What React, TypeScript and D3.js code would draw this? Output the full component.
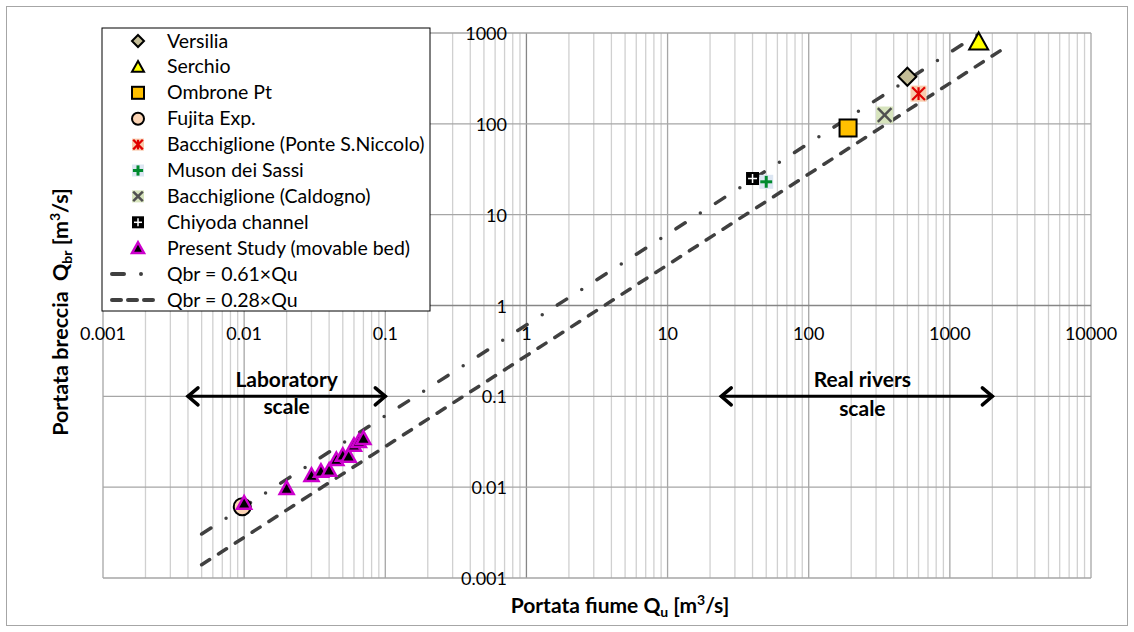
import * as d3 from "d3";

// axis ticks (log-log)
const X_TICKS = [0.001, 0.01, 0.1, 1, 10, 100, 1000, 10000];
const X_TICK_LABELS = ["0.001", "0.01", "0.1", "1", "10", "100", "1000", "10000"];
const Y_TICKS = [0.001, 0.01, 0.1, 1, 10, 100, 1000];
const Y_TICK_LABELS = ["0.001", "0.01", "0.1", "1", "10", "100", "1000"];

// observed breaches: [Qu, Qbr] in m3/s
const VERSILIA: [number, number][] = [[500, 330]];
const SERCHIO: [number, number][] = [[1600, 800]];
const OMBRONE: [number, number][] = [[190, 90]];
const FUJITA: [number, number][] = [[0.0097, 0.0061]];
const BACCH_PONTE: [number, number][] = [[600, 215]];
const MUSON: [number, number][] = [[50, 23]];
const BACCH_CALDOGNO: [number, number][] = [[345, 125]];
const CHIYODA: [number, number][] = [[40, 25]];

// present study, movable bed
const PRESENT_QU = [0.01, 0.02, 0.03, 0.035, 0.04, 0.045, 0.05, 0.055, 0.06, 0.065, 0.07];
const PRESENT_QBR = [0.0067, 0.0097, 0.0135, 0.015, 0.0154, 0.0202, 0.0225, 0.022, 0.029, 0.032, 0.0345];

// fitted lines (end points)
const FIT_QU = [0.005, 2500];
const FIT_HIGH_QBR = [0.00305, 1525];
const FIT_LOW_QBR = [0.0014, 700];

// scale annotations
const ARROW_QBR = 0.1;
const LAB_RANGE = [0.004, 0.1];
const LAB_TEXT_QU = 0.02;
const RIVER_RANGE = [24, 2000];
const RIVER_TEXT_QU = 240;

type Kind =
  | "diamond" | "triangle" | "square" | "circle" | "asterisk"
  | "plus" | "cross" | "chiyoda" | "present";

const SERIES: { name: string; kind: Kind; pts: [number, number][]; size: number }[] = [
  { name: "Versilia", kind: "diamond", pts: VERSILIA, size: 18 },
  { name: "Serchio", kind: "triangle", pts: SERCHIO, size: 19 },
  { name: "Ombrone Pt", kind: "square", pts: OMBRONE, size: 17 },
  { name: "Fujita Exp.", kind: "circle", pts: FUJITA, size: 17 },
  { name: "Bacchiglione (Ponte S.Niccolo)", kind: "asterisk", pts: BACCH_PONTE, size: 16 },
  { name: "Muson dei Sassi", kind: "plus", pts: MUSON, size: 14 },
  { name: "Bacchiglione (Caldogno)", kind: "cross", pts: BACCH_CALDOGNO, size: 17 },
  { name: "Chiyoda channel", kind: "chiyoda", pts: CHIYODA, size: 13 },
  {
    name: "Present Study (movable bed)",
    kind: "present",
    pts: PRESENT_QU.map((q, i) => [q, PRESENT_QBR[i]] as [number, number]),
    size: 14,
  },
];

const LINES = [
  { name: "Qbr = 0.61×Qu", qbr: FIT_HIGH_QBR, dash: "11 18 0 18", legendDash: "12 17 0 40" },
  { name: "Qbr = 0.28×Qu", qbr: FIT_LOW_QBR, dash: "9.5 10.5", legendDash: "9 7" },
];

const FONT = "Lato, 'Noto Sans', sans-serif";
const W = 1134;
const H = 632;

function Marker({ kind, cx, cy, s }: { kind: Kind; cx: number; cy: number; s: number }) {
  const h = s / 2;
  switch (kind) {
    case "diamond":
      return (
        <path
          d={`M${cx},${cy - h}L${cx + h},${cy}L${cx},${cy + h}L${cx - h},${cy}Z`}
          fill="#c4bd97" stroke="#000" strokeWidth={2}
        />
      );
    case "triangle":
    case "present": {
      const th = s * 0.9;
      return (
        <path
          d={`M${cx},${cy - th * 0.55}L${cx + h},${cy + th * 0.45}L${cx - h},${cy + th * 0.45}Z`}
          fill={kind === "triangle" ? "#ffff00" : "#000"}
          stroke={kind === "triangle" ? "#000" : "#cc00cc"}
          strokeWidth={kind === "triangle" ? 2 : 2.5}
        />
      );
    }
    case "square":
      return <rect x={cx - h} y={cy - h} width={s} height={s} fill="#ffc000" stroke="#000" strokeWidth={2} />;
    case "circle":
      return <circle cx={cx} cy={cy} r={h} fill="#fbd4b4" stroke="#000" strokeWidth={2} />;
    case "asterisk": {
      const a = h * 0.8;
      return (
        <g>
          <rect x={cx - h} y={cy - h} width={s} height={s} fill="#f8cbad" />
          <g stroke="#e00000" strokeWidth={2.2}>
            <line x1={cx} y1={cy - a} x2={cx} y2={cy + a} />
            <line x1={cx - a} y1={cy - a} x2={cx + a} y2={cy + a} />
            <line x1={cx - a} y1={cy + a} x2={cx + a} y2={cy - a} />
          </g>
        </g>
      );
    }
    case "plus": {
      const a = h * 0.85;
      return (
        <g>
          <rect x={cx - h} y={cy - h} width={s} height={s} fill="#dce6f2" />
          <g stroke="#008a2e" strokeWidth={3}>
            <line x1={cx} y1={cy - a} x2={cx} y2={cy + a} />
            <line x1={cx - a} y1={cy} x2={cx + a} y2={cy} />
          </g>
        </g>
      );
    }
    case "cross": {
      const a = h * 0.8;
      return (
        <g>
          <rect x={cx - h} y={cy - h} width={s} height={s} fill="#d7e4bd" />
          <g stroke="#505050" strokeWidth={2.5}>
            <line x1={cx - a} y1={cy - a} x2={cx + a} y2={cy + a} />
            <line x1={cx - a} y1={cy + a} x2={cx + a} y2={cy - a} />
          </g>
        </g>
      );
    }
    case "chiyoda":
      return (
        <g>
          <rect x={cx - h} y={cy - h} width={s} height={s} fill="#000" />
          <g stroke="#fff" strokeWidth={1.5}>
            <line x1={cx} y1={cy - h + 2} x2={cx} y2={cy + h - 2} />
            <line x1={cx - h + 2} y1={cy} x2={cx + h - 2} y2={cy} />
          </g>
        </g>
      );
  }
  return null;
}

function Arrow({ x1, x2, y }: { x1: number; x2: number; y: number }) {
  return (
    <g stroke="#000" fill="none" strokeLinecap="round">
      <line x1={x1} y1={y} x2={x2} y2={y} strokeWidth={3} />
      <path d={`M${x1 + 10},${y - 8.5}L${x1},${y}L${x1 + 10},${y + 8.5}`} strokeWidth={3.5} />
      <path d={`M${x2 - 10},${y - 8.5}L${x2},${y}L${x2 - 10},${y + 8.5}`} strokeWidth={3.5} />
    </g>
  );
}

export default function App() {
  const x = d3.scaleLog().domain([0.001, 10000]).range([103, 1091]);
  const y = d3.scaleLog().domain([0.001, 1000]).range([578, 33]);
  const isDecade = (v: number) => Math.abs(Math.log10(v) - Math.round(Math.log10(v))) < 1e-9;
  const minorX = x.ticks().filter((v) => !isDecade(v));

  const row0 = 41;
  const rowH = 25.9;

  return (
    <div style={{ position: "fixed", left: 0, top: 0 }}>
      <svg width={W} height={H} style={{ display: "block", background: "#fff" }} fontFamily={FONT}>
        <defs>
          <clipPath id="plot">
            <rect x={103} y={33} width={988} height={545} />
          </clipPath>
        </defs>
        <rect x={6.5} y={6.5} width={1121} height={619} fill="#fff" stroke="#a6a6a6" strokeWidth={1} />

        {/* gridlines */}
        <g strokeWidth={1.3}>
          {minorX.map((v) => (
            <line key={"mx" + v} x1={x(v)} x2={x(v)} y1={33} y2={578} stroke="#d0d0d0" />
          ))}
          {X_TICKS.map((v) => (
            <line key={"gx" + v} x1={x(v)} x2={x(v)} y1={33} y2={578} stroke={v === 1 ? "#868686" : "#a6a6a6"} />
          ))}
          {Y_TICKS.map((v) => (
            <line key={"gy" + v} x1={103} x2={1091} y1={y(v)} y2={y(v)} stroke={v === 1 ? "#868686" : "#a6a6a6"} />
          ))}
        </g>

        {/* fitted lines */}
        <g clipPath="url(#plot)" fill="none" stroke="#404040" strokeWidth={3.5} strokeLinecap="round">
          {LINES.map((l) => {
            const pts = FIT_QU.map((q, i) => [x(q), y(l.qbr[i])] as [number, number]);
            return <path key={l.name} d={d3.line()(pts) ?? ""} strokeDasharray={l.dash} />;
          })}
        </g>

        {/* data markers */}
        {SERIES.map((s) => (
          <g key={s.name}>
            {s.pts.map(([qu, qbr], i) => (
              <Marker key={i} kind={s.kind} cx={x(qu)} cy={y(qbr)} s={s.size} />
            ))}
          </g>
        ))}

        {/* tick labels */}
        <g fontSize={18} fill="#000">
          {X_TICKS.map((v, i) => (
            <text key={"xl" + v} x={x(v)} y={340} textAnchor="middle">
              {X_TICK_LABELS[i]}
            </text>
          ))}
          {Y_TICKS.map((v, i) => (
            <text key={"yl" + v} x={507} y={y(v) + 7} textAnchor="end">
              {Y_TICK_LABELS[i]}
            </text>
          ))}
        </g>

        {/* scale annotations */}
        <Arrow x1={x(LAB_RANGE[0])} x2={x(LAB_RANGE[1])} y={y(ARROW_QBR)} />
        <Arrow x1={x(RIVER_RANGE[0])} x2={x(RIVER_RANGE[1])} y={y(ARROW_QBR)} />
        <g fontSize={21} fontWeight="bold" textAnchor="middle">
          <text x={x(LAB_TEXT_QU)} y={y(ARROW_QBR) - 9}>Laboratory</text>
          <text x={x(LAB_TEXT_QU)} y={y(ARROW_QBR) + 18}>scale</text>
          <text x={x(RIVER_TEXT_QU)} y={y(ARROW_QBR) - 9}>Real rivers</text>
          <text x={x(RIVER_TEXT_QU)} y={y(ARROW_QBR) + 20}>scale</text>
        </g>

        {/* legend */}
        <rect x={102} y={28} width={328} height={283} fill="#fff" stroke="#000" strokeWidth={1} />
        {SERIES.map((s, i) => (
          <g key={"lg" + s.name}>
            <Marker kind={s.kind} cx={138} cy={row0 + i * rowH} s={12} />
            <text x={167} y={row0 + i * rowH + 6.5} fontSize={19.5}>
              {s.name}
            </text>
          </g>
        ))}
        {LINES.map((l, j) => {
          const cy = row0 + (SERIES.length + j) * rowH;
          return (
            <g key={"ll" + l.name}>
              <line x1={112} x2={157} y1={cy} y2={cy} stroke="#404040" strokeWidth={4} strokeLinecap="round" strokeDasharray={l.legendDash} />
              <text x={167} y={cy + 6.5} fontSize={19.5}>
                {l.name}
              </text>
            </g>
          );
        })}

        {/* axis titles */}
        <text x={620} y={613} fontSize={21} fontWeight="bold" textAnchor="middle">
          Portata fiume Q
          <tspan fontSize={14} dy={4}>u</tspan>
          <tspan dy={-4}> [m</tspan>
          <tspan fontSize={14} dy={-8}>3</tspan>
          <tspan dy={8}>/s]</tspan>
        </text>
        <text
          transform="translate(68,312) rotate(-90)"
          fontSize={21.5}
          fontWeight="bold"
          textAnchor="middle"
          style={{ whiteSpace: "pre" }}
        >
          Portata breccia  Q
          <tspan fontSize={14} dy={4}>br</tspan>
          <tspan dy={-4}> [m</tspan>
          <tspan fontSize={14} dy={-8}>3</tspan>
          <tspan dy={8}>/s]</tspan>
        </text>
      </svg>
    </div>
  );
}
